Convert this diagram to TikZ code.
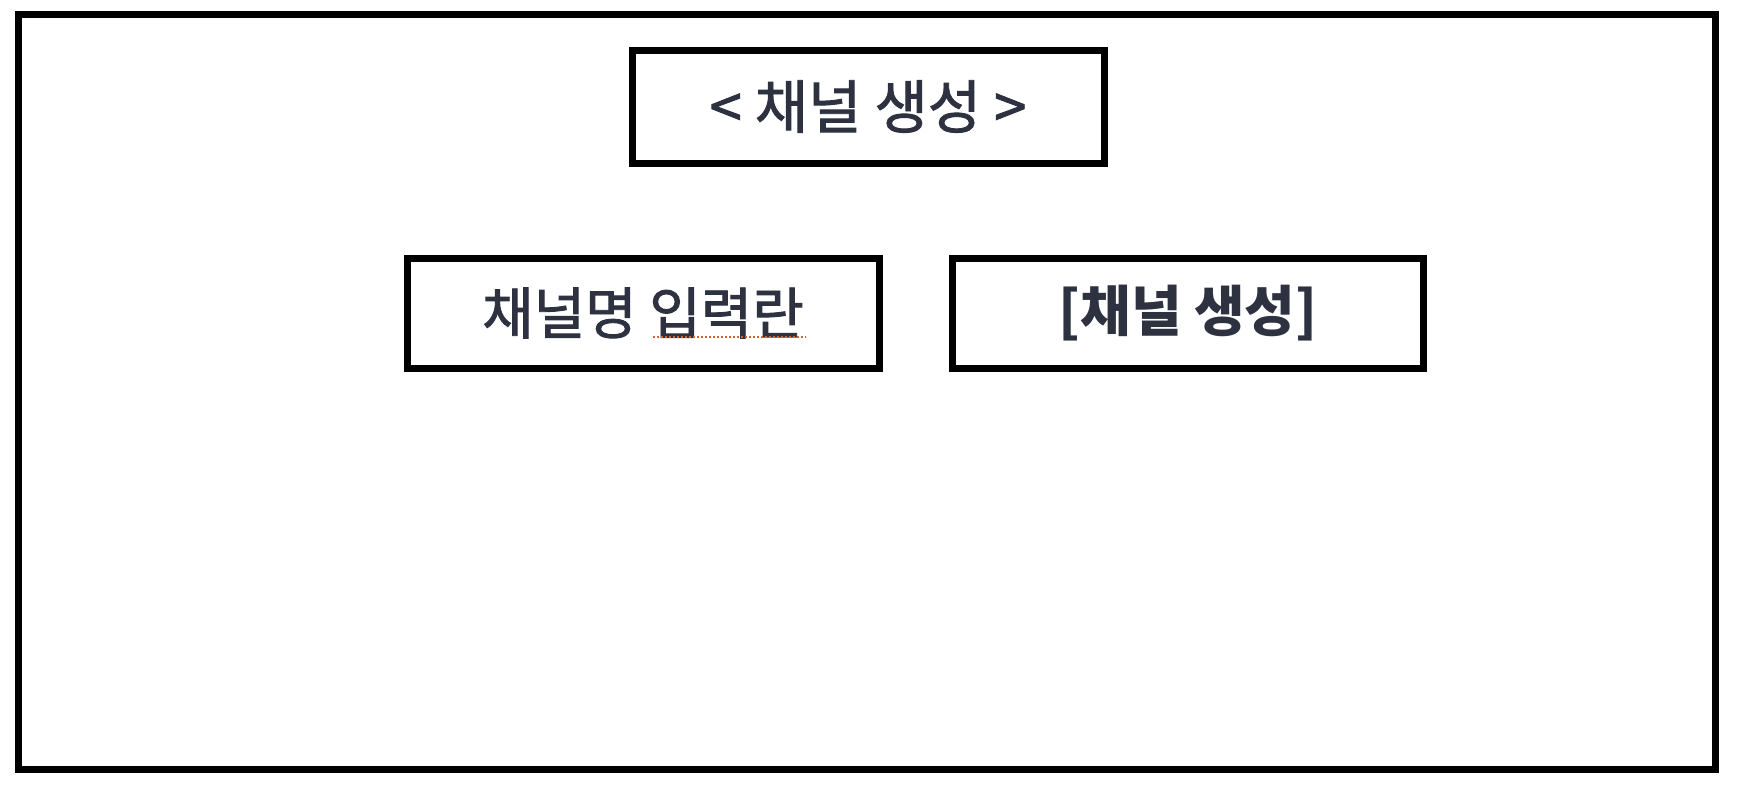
\documentclass[tikz,border=0pt]{standalone}
\usepackage{fontspec}
\newfontfamily\kr[FakeBold=1.6]{Noto Sans CJK KR}
\newfontfamily\krb{Noto Sans CJK KR}
\definecolor{txt}{HTML}{2E3140}
\definecolor{squig}{HTML}{C8683A}
\begin{document}
\begin{tikzpicture}[x=1pt,y=-1pt,
  frame/.style={draw=black,line width=7pt,rectangle,inner sep=0pt,outer sep=0pt},
  boxlabel/.style={text=txt,font=\kr\fontsize{56}{60}\selectfont},
]
\useasboundingbox[fill=white] (0,0) rectangle (1750,796);
\node[frame,minimum width=1697pt,minimum height=754.5pt] (outer) at (866.5,391.75) {};
\node[frame,boxlabel,font=\kr\fontsize{58}{62}\selectfont,minimum width=472pt,minimum height=113pt] (title) at (868,106.5) {< 채널 생성 >};
\node[frame,boxlabel,minimum width=472pt,minimum height=110pt] (input) at (643,313) {채널명 입력란};
\node[frame,boxlabel,font=\krb\bfseries\fontsize{55}{60}\selectfont,minimum width=471.5pt,minimum height=110pt] (button) at (1188,313) {[채널 생성]};
\coordinate (sqa) at (653,337);
\coordinate (sqb) at (806,337);
\draw[squig,line width=2pt,dotted] (sqa) -- (sqb);
\end{tikzpicture}
\end{document}
